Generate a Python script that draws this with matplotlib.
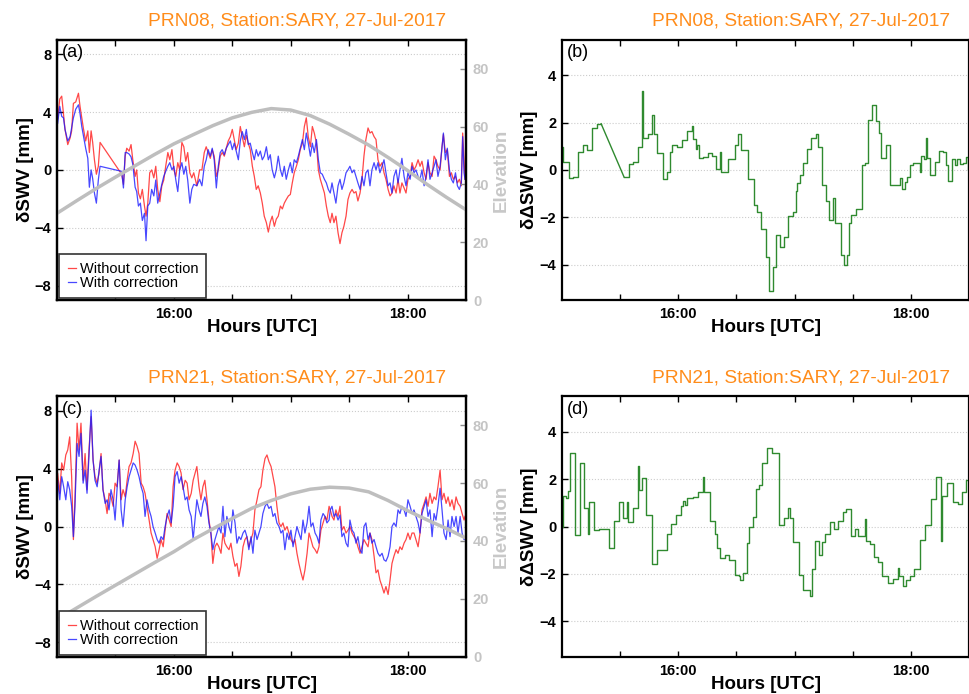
import numpy as np
import matplotlib
matplotlib.use('Agg')
import matplotlib.pyplot as plt

plt.rcParams['font.family'] = ['Liberation Sans', 'DejaVu Sans']

# minutes after 15:00 UTC, PRN08
t_a = [0, 0.3, 1.4, 2.4, 3.3, 4.1, 5.5, 6.7, 7.5, 8.4,
       9.6, 11.0, 11.8, 12.7, 13.5, 14.7, 15.8, 16.6, 17.5, 18.3,
       19.2, 20.2, 21.2, 22.1, 33.2, 34.1, 35.0, 35.8, 37.0, 38.0,
       38.9, 40.1, 40.9, 41.8, 42.8, 43.8, 44.9, 45.7, 46.6, 47.6,
       48.6, 49.7, 50.7, 51.7, 52.8, 53.8, 54.8, 55.8, 56.9, 57.9,
       59.0, 60.0, 61.0, 62.0, 63.0, 64.1, 65.1, 66.1, 67.1, 68.2,
       69.2, 70.2,
       71.8, 73.2, 74.4, 75.6, 76.6, 77.6, 78.7, 79.7, 80.7, 81.8,
       82.8, 83.8, 84.8, 85.9, 86.9, 87.9, 89.0, 90.0, 91.0, 92.0,
       93.1, 94.1, 95.1, 96.2, 97.2, 98.2, 99.2, 100.3, 101.3, 102.3,
       103.3, 104.4, 105.4, 106.4, 107.5, 108.5, 109.5, 110.5, 111.6, 112.6,
       113.6, 114.7, 115.7, 116.7, 117.7, 118.8, 119.8, 120.8, 121.8, 122.9,
       123.9, 124.9, 126.0, 127.0, 128.0, 129.0, 130.1, 131.1, 132.1, 133.2,
       134.2, 135.2, 136.2, 137.3, 138.3, 139.3, 140.3,
       141.2, 142.2, 143.2, 144.3, 145.3, 146.3, 147.3, 148.4, 149.4, 150.4,
       151.5, 152.5, 153.5, 154.5, 155.6, 156.6, 157.6, 158.6, 159.7, 160.7,
       161.7, 162.8, 163.8, 164.8, 165.8, 166.9, 167.9, 168.9, 170.0, 171.0,
       172.0, 173.0, 174.1, 175.1, 176.1, 177.1, 178.2, 179.2, 180.2, 181.3,
       182.3, 183.3, 184.3, 185.4, 186.4, 187.4, 188.5, 189.5, 190.5, 191.5,
       192.6, 193.6, 194.6, 195.6, 196.7, 197.7, 198.4, 199.4, 200.4, 201.5,
       202.5, 203.5, 204.6, 205.6, 206.6, 207.6, 208.3, 209.0, 209.5]
red_a = [4.6, 3.5, 4.9, 5.1, 3.9, 2.8, 1.75, 2.2, 2.7, 4.6,
         4.7, 5.3, 4.4, 3.6, 2.9, 2.0, 2.7, 1.2, 2.7, 1.9,
         0.7, -0.3, 0.25, 1.9, -0.3, -1.0, 0.95, 1.5, 1.3, 1.75,
         0.7, -0.45, 0.0, -1.6, -2.0, -1.35, -2.5, -3.2, -2.3, -0.2,
         0.0, -0.55, 0.25, -1.35, -2.2, -1.1, -0.7, 0.25, 1.2, 0.7,
         1.4, 0.0, -0.45, 0.5, 0.0, 1.9, 1.6, 0.6, 1.2, -0.2,
         -0.55, -0.2,
         -1.1, 0.0, 0.0, 1.2, 1.6, 1.2, 0.8, 1.4, 0.95, -0.45,
         0.0, 0.95, 1.2, 0.95, 1.5, 2.0, 2.3, 2.8, 2.1, 1.4,
         1.85, 3.0, 2.3, 1.6, 2.4, 1.85, 1.4, 0.25, -0.45, -1.35,
         -1.1, -1.6, -2.3, -3.2, -3.65, -4.3, -3.6, -3.2, -3.9, -3.4,
         -3.2, -2.5, -2.7, -2.3, -2.05, -1.8, -1.7, -0.9, -0.2, 0.25,
         0.7, 1.4, 1.85, 3.0, 3.6, 2.3, 1.6, 3.0, 2.55, 1.85,
         0.0, -0.65, -1.1, -1.6, -2.5, -3.2, -3.65,
         -3.0, -3.65, -3.2, -4.35, -5.1, -4.35, -3.9, -3.2, -2.05, -1.6,
         -1.35, -1.6, -1.5, -2.15, -1.6, -0.65, 0.95, 2.1, 2.9, 2.55,
         2.65, 2.3, 2.1, 0.7, 0.25, 0.5, -0.2, -0.65, -1.35, -1.8,
         -1.6, -1.1, -1.6, -0.65, -1.6, -0.9, -1.25, -1.6, -0.65, -0.45,
         0.5, 0.0, 0.25, 0.7, 0.25, 0.6, -0.2, -0.65, 0.5, -0.2,
         -0.45, 0.95, 0.7, 0.25, 0.0, 1.6, 2.45, 1.2, 1.4, -0.45,
         -0.2, -0.65, -0.45, -0.9, -0.65, -1.1, 2.55, 0.7, -0.65]
blue_a = [5.2, 3.2, 4.4, 3.7, 3.6, 2.8, 2.0, 2.3, 2.9, 3.6,
          4.2, 4.5, 3.9, 3.0, 2.4, 1.5, 0.8, -1.2, 0.0, -0.6,
          -1.6, -2.3, -0.7, 0.25, -0.1, -1.25, 1.2, 1.2, 1.1, 0.9,
          0.4, -1.2, -1.5, -2.5, -2.3, -3.5, -3.0, -4.9, -2.5, -2.3,
          -1.35, -1.8, -0.7, -2.3, -1.6, -1.0, -0.45, -0.1, 0.25, 0.5,
          0.0, 0.25, -0.7, -1.5, 0.0, 0.5, -0.3, 0.25, -0.7, -2.3,
          -1.35, -1.0,
          -1.1, -0.65, -1.1, 0.25, 0.7, 1.4, 0.95, 1.5, 0.7, -1.25,
          0.25, 1.2, 1.4, 1.05, 1.5, 1.75, 2.0, 1.4, 1.85, 1.3,
          0.7, 2.0, 2.65, 2.1, 2.8, 1.75, 1.85, 1.2, 0.7, 1.4,
          0.95, 1.3, 0.7, 0.95, 1.6, 0.7, 1.05, 0.0, -0.55, 0.0,
          0.95, 0.0, -0.45, 0.25, -0.65, 0.0, 0.5, -0.2, 0.7, 0.5,
          0.95, 1.5, 2.1, 1.4, 2.55, 1.85, 0.95, 1.85, 1.2, 2.1,
          0.7, -0.2, -0.3, -0.65, -0.9, -1.35, -1.6,
          -0.9, -1.6, -2.3, -1.1, -0.65, -1.35, -0.9, -0.2, 0.0, 0.25,
          -0.2, 0.0, -0.45, -0.9, -1.35, -0.45, -1.1, -0.2, 0.0, -1.1,
          0.0, 0.5, 0.0, 0.5, -0.2, 0.25, 0.7, -0.2, -1.1, -0.9,
          -1.6, -0.45, 0.0, -0.9, 0.0, 0.8, -0.45, -1.1, -0.2, -0.65,
          0.25, -0.2, 0.0, -0.45, -0.65, 0.0, -1.1, -0.45, 0.7, -0.65,
          -0.2, 0.25, 0.7, -0.45, 0.25, 1.6, 2.55, 0.7, 1.5, 0.0,
          -0.65, -0.9, -0.2, -1.1, -1.35, -0.9, 2.3, -0.2, -0.65]

# PRN21
t_c = [0, 0.3, 1.4, 2.4, 3.4, 4.5, 5.5, 6.5, 7.5, 8.4,
       9.2, 10.3, 11.3, 12.3, 13.4, 14.4, 15.4, 16.4, 17.5, 18.5,
       19.5, 20.6, 21.6, 22.6, 23.6, 24.7, 25.7, 26.7, 27.7, 28.8,
       29.8, 30.8, 31.9, 32.9, 33.9, 35.0, 36.0, 37.0, 38.0, 39.1,
       40.1, 41.1, 42.1, 43.2, 44.2, 45.2, 46.2, 47.3, 48.3, 49.3,
       50.4, 51.4, 52.4, 53.4, 54.5, 55.5, 56.5, 57.6, 58.6, 59.6,
       60.6, 61.7, 62.7, 63.7, 64.7, 65.8, 66.8, 67.8, 68.9, 69.9,
       71.8, 72.9, 73.9, 74.9, 75.9, 77.0, 78.0, 79.0, 80.0, 81.1,
       82.1, 83.1, 84.2, 85.2, 86.2, 87.2, 88.3, 89.3, 90.3, 91.4,
       92.4, 93.4, 94.4, 95.5, 96.5, 97.5, 98.5, 99.6, 100.6, 101.6,
       102.7, 103.7, 104.7, 105.7, 106.8, 107.8, 108.8, 109.9, 110.9, 111.9,
       112.9, 114.0, 115.0, 116.0, 117.0, 118.1, 119.1, 120.1, 121.2, 122.2,
       123.2, 124.2, 125.3, 126.3, 127.3, 128.4, 129.4, 130.4, 131.4, 132.5,
       133.5, 134.5, 135.5, 136.6, 137.6, 138.6, 139.7, 140.3,
       141.2, 142.2, 143.2, 144.3, 145.3, 146.3, 147.3, 148.4, 149.4, 150.4,
       151.5, 152.5, 153.5, 154.5, 155.6, 156.6, 157.6, 158.6, 159.7, 160.7,
       161.7, 162.8, 163.8, 164.8, 165.8, 166.9, 167.9, 168.9, 170.0, 171.0,
       172.0, 173.0, 174.1, 175.1, 176.1, 177.1, 178.2, 179.2, 180.2, 181.3,
       182.3, 183.3, 184.3, 185.4, 186.4, 187.4, 188.5, 189.5, 190.5, 191.5,
       192.6, 193.6, 194.6, 195.6, 196.7, 197.7, 198.7, 199.8, 200.8, 201.8,
       202.8, 203.9, 204.9, 205.9, 207.0, 208.0, 209.0, 209.5]
red_c = [3.0, 3.7, 2.3, 4.4, 3.9, 4.95, 5.3, 6.2, 3.45, -0.9,
         1.85, 7.15, 5.3, 7.15, 3.2, 5.05, 2.55, 5.3, 7.6, 4.6,
         3.45, 3.0, 3.7, 5.05, 2.55, 1.85, 0.9, 2.3, 2.05, 1.4,
         3.0, 2.75, 4.6, 1.85, 2.55, 2.05, 3.2, 4.15, 4.4, 5.05,
         5.9, 5.55, 5.05, 3.0, 2.75, 2.3, 1.4, 0.45, -0.45, -0.9,
         -1.4, -2.2, -1.6, -0.9, -1.4, -0.25, 0.9, 0.45, 0.0, 2.75,
         3.9, 4.4, 4.15, 3.7, 2.55, 3.2, 3.0, 1.85, 2.3, 3.2,
         4.15, 2.75, 1.85, 2.75, 3.2, 1.85, 0.45, -0.45, -2.55, -1.4,
         -1.15, -1.4, -1.85, -0.45, -1.15, -1.4, -1.6, -1.15, -2.05, -2.75,
         -2.55, -3.45, -2.75, -1.4, -0.9, -0.7, -1.4, -0.9, -0.45, 1.15,
         1.85, 2.55, 2.75, 3.9, 4.7, 4.95, 4.5, 4.15, 3.45, 2.75,
         1.4, 0.25, 0.0, 0.25, -0.25, 0.0, -0.45, -0.9, -1.15, -0.9,
         -1.85, -2.55, -3.2, -3.7, -3.0, -1.85, -0.45, -0.9, -1.4, -1.6,
         -1.85, -1.4, -0.25, 0.25, 0.7, 0.45, 1.4, 1.15,
         0.7, 0.45, 1.15, 0.7, 1.4, -0.25, 0.0, -0.45, -0.25, 0.0,
         -0.45, -0.7, -0.9, -1.4, -1.85, -1.4, -0.9, -1.15, -1.4, -0.45,
         -0.9, -2.05, -3.2, -3.0, -3.7, -4.15, -4.6, -4.15, -4.7, -3.7,
         -2.55, -2.05, -1.6, -1.85, -1.4, -1.6, -1.15, -0.9, -0.45, -0.9,
         -0.45, -0.45, -0.9, -1.4, -0.45, 1.15, 1.6, 2.05, 1.4, 2.3,
         1.6, 2.05, 1.85, 2.75, 3.9, 1.85, 2.3, 1.6, 2.05, 1.4,
         1.85, 1.15, 2.05, 1.6, 1.4, 0.9, 0.45, 0.7]
blue_c = [2.65, 3.2, 1.85, 3.45, 2.75, 1.85, 3.1, 2.55, 1.4, -0.7,
          1.4, 5.75, 4.85, 6.45, 3.0, 3.9, 2.3, 4.85, 8.05, 4.6,
          3.2, 2.75, 3.9, 4.85, 2.55, 1.6, 1.85, 1.15, 2.55, 1.85,
          0.45, 2.55, 4.6, 1.15, 0.0, 1.85, 2.75, 3.45, 3.9, 4.4,
          4.25, 3.9, 3.45, 2.75, 2.3, 0.7, 1.85, 1.15, 0.7, 0.0,
          -0.45, -0.9, -1.15, -0.7, -0.9, 0.0, 0.7, 1.15, 0.25, 1.4,
          3.45, 3.8, 3.0, 3.45, 2.75, 1.85, 2.05, 1.15, 0.7, -0.9,
          1.85, 1.15, 0.7, 1.6, 2.05, 1.4, 0.25, -0.45, -1.6, -0.9,
          -0.45, 0.0, -0.45, 1.4, -0.7, 0.7, 0.0, -0.45, 1.15, 0.25,
          -1.15, -0.7, -0.9, -0.45, -0.25, -0.7, -1.6, -0.7, -1.85, -0.25,
          -0.9, -0.45, 0.0, 0.9, 1.4, 1.6, 1.25, 1.4, 0.7, 0.9,
          0.25, 0.0, -0.45, -0.25, -1.6, -0.45, -0.9, -0.25, -1.4, -0.7,
          0.0, -0.45, -0.9, 0.45, -0.45, 0.25, 1.4, 0.0, 0.25, -0.45,
          -0.7, -1.15, 0.45, 0.9, 0.7, 0.25, 0.45, 1.15,
          1.4, 0.7, 0.9, 0.45, 0.8, -0.7, -0.45, -1.15, -1.4, 0.45,
          -0.25, -0.45, -1.15, -0.7, -1.6, -1.85, 0.0, 0.25, -0.9, -0.45,
          -1.15, -0.9, -1.4, -1.85, -2.05, -1.85, -2.3, -2.4, -2.05, -1.4,
          0.0, 0.25, 0.0, 1.15, 0.9, 1.4, 1.15, 0.7, 1.85, 1.4,
          0.9, 1.15, 0.7, 0.25, -0.45, 0.9, 1.4, 1.85, 0.7, 1.15,
          -0.7, 0.9, 0.45, 1.4, 2.65, 1.15, -0.45, -0.9, 0.45, -0.7,
          0.7, 0.0, 0.7, -0.45, 0.7, -0.45, -0.9, -0.9]

# satellite elevation (deg), every 10 min
elev_t = [0, 10, 20, 30, 40, 50, 60, 70, 80, 90, 100,
          110, 120, 130, 140, 150, 160, 170, 180, 190, 200, 210]
elev_a = [30.0, 34.3, 38.5, 42.5, 46.4, 50.3, 54.0, 57.2, 60.3, 63.0, 64.9,
          66.2, 65.7, 63.8, 60.8, 57.3, 53.6, 49.3, 44.8, 40.0, 35.5, 31.2]
elev_c = [12.8, 16.8, 20.8, 24.7, 28.6, 32.5, 36.3, 40.5, 44.2, 47.8, 51.3,
          54.0, 56.3, 57.9, 58.6, 58.3, 57.0, 54.0, 50.5, 47.3, 44.3, 41.0]

# difference series (step values, start time of each step)
t_b = [0.0, 0.9, 3.5, 6.0, 8.3, 10.8, 13.2, 15.5, 18.0, 20.3,
       32.1, 34.8, 36.9, 39.1, 41.2, 41.9, 44.6, 46.7, 47.5, 48.9,
       52.0, 54.1, 55.8, 56.6, 59.2, 61.8, 64.3, 66.9, 67.4, 69.1,
       69.8, 70.9, 72.9, 75.5, 77.2, 79.4, 81.5, 82.2, 85.8, 89.2,
       90.6, 92.6, 96.1, 99.0, 100.7, 102.9, 105.0, 106.9, 108.9, 110.6,
       112.7, 114.4, 116.6, 118.9, 120.6, 121.4, 122.7, 124.4, 126.4, 128.3,
       131.2, 132.1, 134.3, 136.4, 137.7, 139.8, 140.8, 144.1, 145.5, 147.0,
       147.9, 149.2, 151.8, 154.7, 156.4, 157.8, 159.9, 162.1, 163.5, 164.7,
       166.9, 169.3, 174.1, 175.5, 176.7, 177.9, 179.6, 181.0, 184.7, 185.1,
       186.4, 187.8, 188.3, 189.9, 192.1, 194.3, 196.4, 197.8, 199.0, 201.2,
       202.4, 203.6, 205.0, 206.7, 208.1, 209.1, 210.0]
d_b = [0.95, 0.35, -0.35, -0.3, 0.75, 1.05, 0.85, 1.75, 1.95, 1.95,
       -0.3, 0.25, 0.35, 0.95, 3.35, 1.35, 1.5, 2.3, 1.5, 0.7,
       -0.4, -0.1, 0.75, 1.05, 0.95, 1.25, 1.65, 1.85, 1.3, 0.9,
       1.05, 0.5, 0.55, 0.7, 0.6, 0.05, 0.75, -0.1, 0.45, 1.05,
       1.5, 0.85, -0.4, -1.5, -1.8, -2.5, -3.7, -5.1, -4.1, -2.75,
       -3.25, -2.85, -1.95, -1.8, -0.9, -0.55, -0.2, 0.3, 0.9, 1.35,
       1.5, 0.95, -0.65, -1.3, -2.1, -1.2, -2.25, -3.6, -4.0, -3.6,
       -2.25, -1.9, -1.65, 0.2, 0.3, 2.1, 2.75, 2.05, 1.55, 0.5,
       1.05, -0.65, -0.35, -0.8, -0.5, -0.3, 0.2, 0.3, -0.1, 0.6,
       0.45, 1.35, 0.5, -0.2, 0.35, 0.8, 0.75, 0.2, -0.45, 0.45,
       0.2, 0.45, 0.25, 0.3, 0.55, 0.0, 0.0]
gap_b = 9  # data gap between 15:20 and 15:32

t_d = [0.0, 0.9, 2.1, 3.1, 4.3, 6.7, 9.5, 11.7, 13.4, 14.3,
       16.8, 19.4, 24.6, 27.0, 29.4, 31.8, 33.5, 34.3, 36.9, 39.1,
       40.0, 41.2, 43.2, 46.3, 48.9, 54.1, 56.1, 58.7, 61.3, 62.3,
       63.5, 64.7, 67.8, 70.3, 72.9, 73.4, 76.3, 78.9, 80.1, 81.5,
       84.1, 86.3, 89.2, 91.4, 92.1, 93.5, 95.2, 96.6, 98.6, 100.0,
       101.7, 103.4, 106.0, 108.1, 112.0, 114.6, 116.6, 117.5, 119.2, 122.3,
       124.4, 127.8, 129.2, 130.4, 132.6, 134.3, 135.5, 138.1, 140.1, 142.4,
       144.9, 146.7, 148.9, 151.0, 152.7, 156.1, 156.8, 159.0, 160.7, 163.0,
       165.2, 168.1, 170.7, 173.2, 173.9, 175.8, 177.5, 179.2, 181.3, 184.4,
       187.0, 190.4, 193.0, 195.5, 195.9, 198.5, 201.5, 204.1, 206.3, 208.4,
       210.0]
d_d = [0.0, 1.3, 1.2, 1.5, 3.1, -0.35, 2.7, 0.8, -0.3, 1.05,
       -0.15, -0.1, -0.9, 0.25, 1.05, 0.35, 1.05, 0.2, 0.8, 2.55,
       1.55, 2.05, 0.5, -1.6, -1.0, -0.3, 0.1, 0.5, 0.85, 1.1,
       0.9, 1.2, 1.25, 1.45, 2.1, 1.45, 0.25, -0.3, -0.9, -1.35,
       -1.2, -1.4, -2.05, -2.1, -2.25, -1.95, -0.7, 0.0, 0.4, 1.6,
       1.75, 2.7, 3.3, 3.1, 0.05, 0.35, 0.8, 0.35, -0.65, -2.05,
       -2.7, -2.95, -1.8, -0.6, -1.2, -0.65, -0.3, 0.2, -0.1, 0.25,
       0.6, 0.75, -0.4, -0.1, -0.4, 0.3, -0.6, -0.75, -1.3, -1.5,
       -2.1, -2.4, -2.2, -1.75, -2.1, -2.5, -2.25, -2.1, -1.8, -0.55,
       0.05, 1.15, 2.1, -0.6, 1.3, 1.85, 1.05, 0.95, 1.45, 1.95,
       1.95]

titles = ['PRN08, Station:SARY, 27-Jul-2017', 'PRN21, Station:SARY, 27-Jul-2017']
ORANGE = '#ff8c1a'
GREY = '#bebebe'
GREEN = '#2f8a2f'


def hrs(t):
    return 15 + np.asarray(t) / 60.0


def style(ax, ylim, yticks, ylabel, tag):
    ax.set_xlim(15, 18.5)
    ax.set_ylim(*ylim)
    ax.set_yticks(yticks)
    ax.set_xticks([15.5, 16, 16.5, 17, 17.5, 18], ['', '16:00', '', '', '', '18:00'])
    ax.tick_params(axis='both', direction='in', length=4, width=1, labelsize=10.5, top=True)
    ax.tick_params(axis='x', pad=5)
    ax.tick_params(axis='y', pad=4)
    for lab in ax.get_xticklabels() + ax.get_yticklabels():
        lab.set_fontweight('bold')
    for s in ax.spines.values():
        s.set_linewidth(1.6)
    ax.grid(axis='y', linestyle=':', color='#cccccc', linewidth=0.8)
    ax.set_xlabel('Hours [UTC]', fontsize=13.5, fontweight='bold', va='center')
    ax.xaxis.set_label_coords(0.5, -0.107)
    ax.set_ylabel(ylabel, fontsize=13.5, fontweight='bold', va='center')
    ax.yaxis.set_label_coords(-0.078, 0.5)
    ax.text(0.012, 0.95, tag, transform=ax.transAxes, fontsize=13, va='center', ha='left')


def swv_panel(ax, t, red, blue, elev, tag):
    l1, = ax.plot(hrs(t), red, color='#ff1a1a', lw=0.9, alpha=0.8)
    l2, = ax.plot(hrs(t), blue, color='#1a1aff', lw=0.9, alpha=0.8)
    style(ax, (-9, 9), [-8, -4, 0, 4, 8], 'δSWV [mm]', tag)
    ax2 = ax.twinx()
    ax2.plot(hrs(elev_t), elev, color=GREY, lw=2.5)
    ax2.set_ylim(0, 90)
    ax2.set_yticks([0, 20, 40, 60, 80])
    ax2.tick_params(axis='y', direction='in', length=4, width=1, color='#8a8a8a',
                    labelcolor='#c4c4c4', labelsize=10.5, pad=5)
    for lab in ax2.get_yticklabels():
        lab.set_fontweight('bold')
    for s in ax2.spines.values():
        s.set_linewidth(1.6)
    ax2.set_ylabel('Elevation', color='#c8c8c8', fontsize=13.5, fontweight='bold', va='center')
    ax2.yaxis.set_label_coords(1.086, 0.5)
    leg = ax2.legend([l1, l2], ['Without correction', 'With correction'], loc='lower left',
                     bbox_to_anchor=(0.006, 0.006), borderaxespad=0, fontsize=10.5,
                     handlelength=0.55, handletextpad=0.3, labelspacing=0.02, borderpad=0.55,
                     fancybox=False, edgecolor='#333333', framealpha=1)
    leg.get_frame().set_linewidth(1.2)


fig = plt.figure(figsize=(9.7, 6.94), dpi=100)
ax_a = fig.add_axes([0.0588, 0.5677, 0.4216, 0.3750])
ax_b = fig.add_axes([0.5791, 0.5677, 0.4202, 0.3750])
ax_c = fig.add_axes([0.0588, 0.0538, 0.4216, 0.3750])
ax_d = fig.add_axes([0.5791, 0.0538, 0.4202, 0.3750])

swv_panel(ax_a, t_a, red_a, blue_a, elev_a, '(a)')
swv_panel(ax_c, t_c, red_c, blue_c, elev_c, '(c)')

# (b): steps with a straight line across the data gap
ax_b.plot(hrs(t_b[:gap_b + 1]), d_b[:gap_b + 1], color=GREEN, lw=1.0, drawstyle='steps-post')
ax_b.plot(hrs(t_b[gap_b:gap_b + 2]), d_b[gap_b:gap_b + 2], color=GREEN, lw=1.0)
ax_b.plot(hrs(t_b[gap_b + 1:]), d_b[gap_b + 1:], color=GREEN, lw=1.0, drawstyle='steps-post')
style(ax_b, (-5.5, 5.5), [-4, -2, 0, 2, 4], 'δΔSWV [mm]', '(b)')

ax_d.plot(hrs(t_d), d_d, color=GREEN, lw=1.0, drawstyle='steps-post')
style(ax_d, (-5.5, 5.5), [-4, -2, 0, 2, 4], 'δΔSWV [mm]', '(d)')

for x, y, s in [(0.3062, 0.9697, titles[0]), (0.8258, 0.9697, titles[0]),
                (0.3062, 0.4553, titles[1]), (0.8258, 0.4553, titles[1])]:
    fig.text(x, y, s, color=ORANGE, fontsize=13.8, ha='center', va='center')

fig.savefig('out.png', dpi=100)
